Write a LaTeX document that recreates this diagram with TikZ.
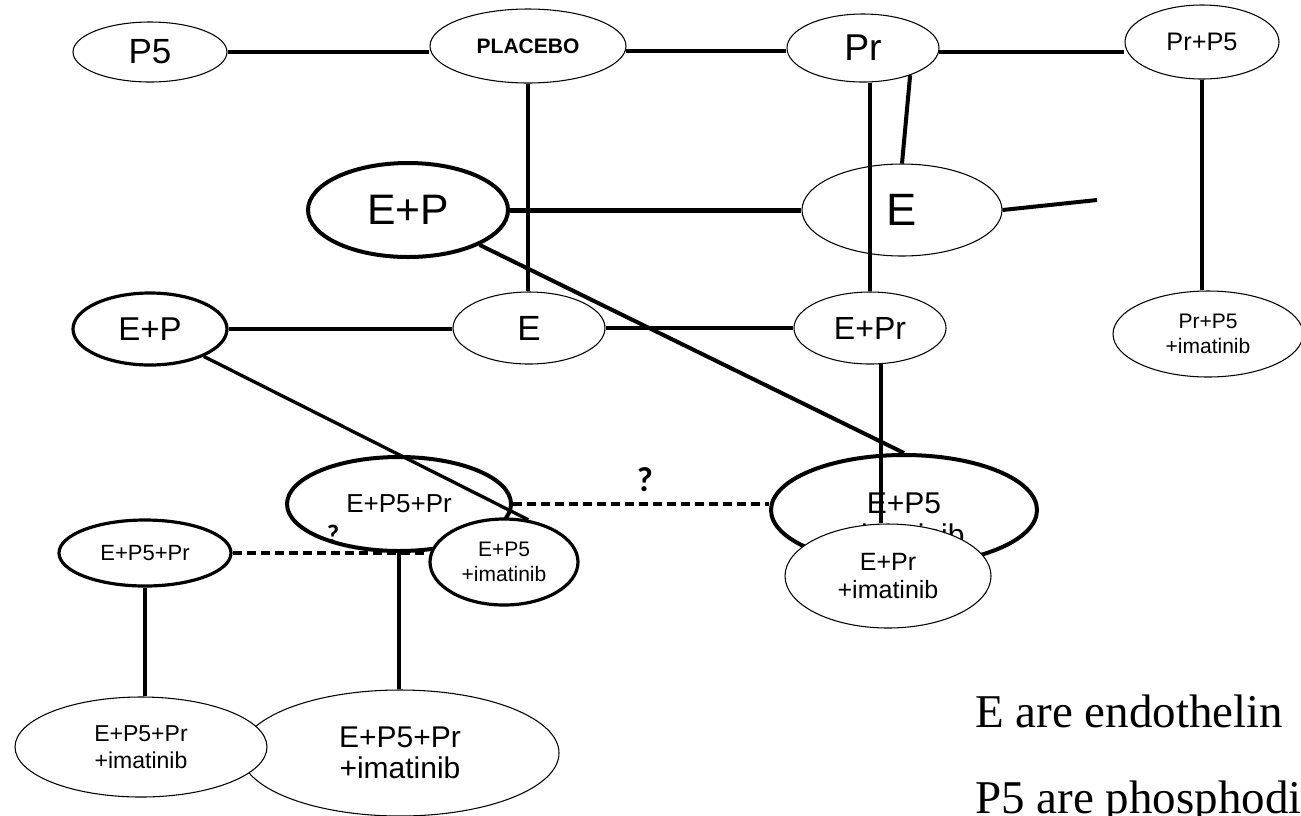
\documentclass[tikz,border=0pt]{standalone}
\usepackage{fontspec}
\setmainfont{Liberation Sans}
\newfontfamily\notefont{Liberation Serif}
\newfontfamily\qfont{Carlito}
\usetikzlibrary{shapes.geometric,calc}
\pgfdeclarelayer{front}
\pgfsetlayers{main,front}
\newcommand\fs[2]{\fontsize{#1}{#2}\selectfont}

\begin{document}
\begin{tikzpicture}[x=0.75pt,y=-0.75pt,
  ell/.style 2 args={ellipse, draw, inner sep=0pt, align=center,
    minimum width={#1*1.5pt}, minimum height={#2*1.5pt}},
  hair/.style={line width=0.8pt},
  rim/.style={line width=2.4pt},
  heavyrim/.style={line width=3pt},
  cover/.style={fill=white},
  link/.style={line width=2.5pt},
  heavylink/.style={line width=3pt},
  widelink/.style={line width=3.75pt},
  dashlink/.style={line width=2.4pt, dash pattern=on 6.75pt off 3.75pt},
  qmark/.style={inner sep=0pt, font=\qfont\bfseries\fs{#1}{#1}},
  note/.style={anchor=base west, inner sep=0pt, font=\notefont\fs{35.25}{40}},
]
\useasboundingbox (0,0) rectangle (1301,815);
\begin{scope}
\clip (0,0) rectangle (1301,815);

% top row
\node[ell={77}{30}, hair, font=\fs{26.25}{30}] (p5) at (150,52) {P5};
\node[ell={98}{37}, hair, font=\bfseries\fs{15.75}{18}] (placebo) at (528,46) {PLACEBO};
\node[ell={76}{34}, hair, font=\fs{28}{30}] (pr) at (863,48) {Pr};
\node[ell={77}{37}, hair, font=\fs{19}{22}] (prp5) at (1202,42) {Pr+P5};

% second row
\node[ell={100}{47}, heavyrim, font=\fs{32}{36}] (epbig) at (408,210) {E+P};
\node[ell={100}{46}, hair, font=\fs{34}{36}] (ebig) at (902,210) {E};
\coordinate (eend) at (1097,200);

% third row
\node[ell={77}{36}, rim, font=\fs{24.75}{28}] (eps) at (150,329) {E+P};
\node[ell={76}{36}, hair, font=\fs{26.25}{30}] (em) at (529,328) {E};
\node[ell={76}{36}, hair, font=\fs{24}{28}] (epr) at (870,328) {E+Pr};
\node[ell={95}{43}, hair, font=\fs{15.75}{18.75}] (prp5im) at (1208,334) {Pr+P5\\+imatinib};

% fourth row
\node[ell={112}{47}, heavyrim, font=\fs{19.5}{22}] (ep5prm) at (399,504) {E+P5+Pr};
\node[ell={133}{55}, heavyrim] (ep5big) at (904,510) {};
\node[align=center, inner sep=0pt, font=\fs{22.5}{24}] (ep5txt) at (904,519) {E+P5\\+imatinib};
\node[ell={86}{33}, rim, font=\fs{16.5}{19}] (ep5prs) at (145,553) {E+P5+Pr};

% bottom row
\node[ell={159}{63}, hair, font=\fs{22.5}{23.25}] (bigbottom) at (400,753) {E+P5+Pr\\+imatinib};

% nodes that sit on top of others
\begin{pgfonlayer}{front}
\node[ell={74}{43}, rim, cover, font=\fs{15.75}{18.75}] (ep5im) at (504,562) {E+P5\\+imatinib};
\node[ell={103}{52}, hair, cover, font=\fs{18.75}{21}] (eprim) at (888,576) {E+Pr\\+imatinib};
\node[ell={126}{50}, hair, cover, font=\fs{17.25}{20}] (smallbottom) at (141,747) {E+P5+Pr\\+imatinib};
\end{pgfonlayer}

% connectors, top
\draw[link] (p5.east) -- (p5.east -| placebo.west);
\draw[link] (placebo.-3) -- (placebo.-3 -| pr.west);
\draw[link] (pr.-3) -- (pr.-3 -| prp5.west);
\draw[link] (placebo.south) -- (placebo.south |- em.north);
\draw[link] (epr.north) -- (epr.north |- pr.south);
\draw[heavylink] (pr.-30) -- (ebig.north);
\draw[link] (prp5.south) -- (prp5.south |- prp5im.north);

% connectors, second row
\draw[widelink] (epbig.east) -- (epbig.east -| ebig.west);
\draw[heavylink] (ebig.east) -- (eend);
\draw[heavylink] (epbig.-26) -- (ep5big.north);

% connectors, third row
\draw[link] (eps.east) -- (eps.east -| em.west);
\draw[link] (em.east) -- (em.east -| epr.west);
\draw[link] (eps.-27) -- (ep5im.60);
\draw[link] (epr.-73) -- (epr.-73 |- eprim.north);

% dashed links and question marks
\draw[dashlink] (ep5prm.east) -- (ep5prm.east -| ep5big.west);
\draw[dashlink] (ep5prs.east) -- (ep5prs.east -| ep5im.west);
\node[qmark=26] (q1) at (645,480) {?};
\node[qmark=20] (q2) at (333,534) {?};

% links down to the bottom row
\draw[link] (ep5prs.south) -- (ep5prs.south |- smallbottom.north);
\draw[heavylink] (ep5prm.south) -- (ep5prm.south |- bigbottom.north);

% legend text
\node[note] (note1) at (975,727) {E are endothelin};
\node[note] (note2) at (975,813) {P5 are phosphodi};
\end{scope}
\end{tikzpicture}
\end{document}
